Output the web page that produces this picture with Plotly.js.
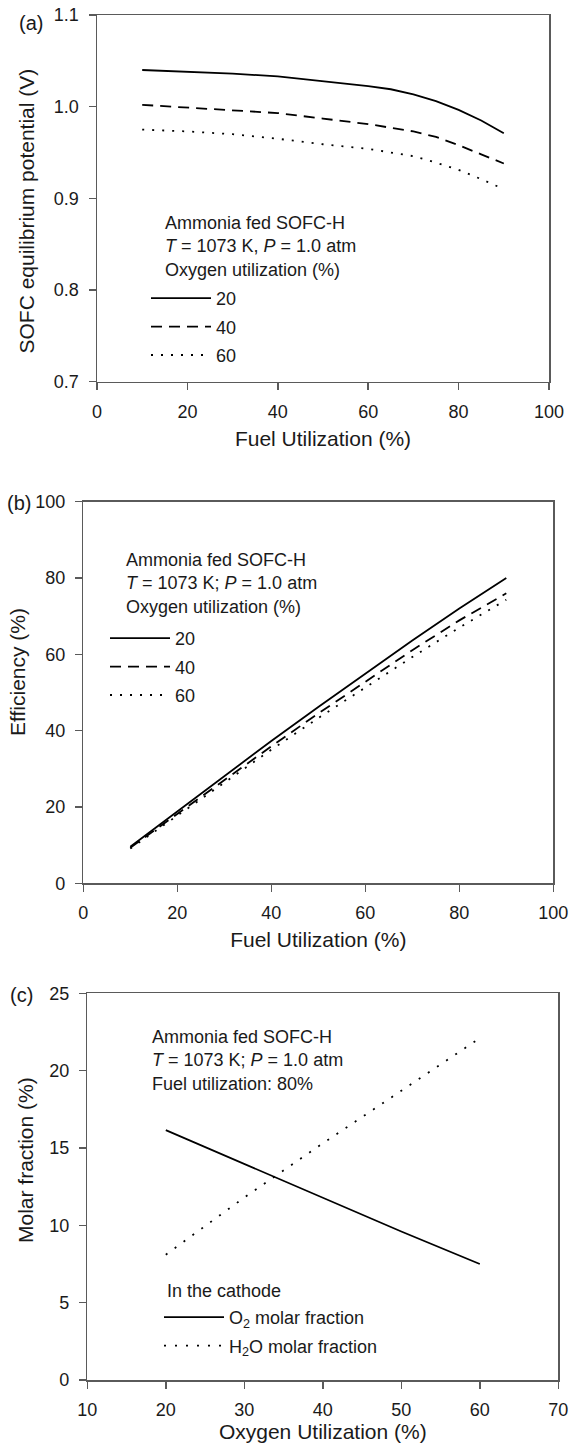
<!DOCTYPE html>
<html><head><meta charset="utf-8">
<script src="https://cdn.plot.ly/plotly-3.0.1.min.js"></script>
<style>html,body{margin:0;padding:0;background:#fff}#chart{width:576px;height:1443px}</style>
</head><body><div id="chart"></div>
<script>
// ---------- Panel (a): SOFC equilibrium potential ----------
const fuelUtilA = [10, 20, 30, 40, 50, 60, 65, 70, 75, 80, 85, 90];
const potentialO20 = [1.040, 1.038, 1.036, 1.033, 1.028, 1.0225, 1.019, 1.0135, 1.006, 0.9965, 0.985, 0.971];
const potentialO40 = [1.002, 0.999, 0.996, 0.993, 0.987, 0.981, 0.977, 0.973, 0.967, 0.958, 0.948, 0.938];
const potentialO60 = [0.975, 0.973, 0.970, 0.965, 0.959, 0.954, 0.950, 0.946, 0.939, 0.931, 0.921, 0.910];
// ---------- Panel (b): efficiency ----------
const fuelUtilB = [10, 20, 30, 40, 50, 60, 70, 80, 90];
const efficiencyO20 = [9.6, 18.9, 28.2, 37.3, 46.2, 55.0, 63.6, 72.0, 80.0];
const efficiencyO40 = [9.3, 18.2, 27.1, 35.9, 44.5, 52.9, 61.1, 68.9, 76.0];
const efficiencyO60 = [9.1, 17.8, 26.5, 35.0, 43.3, 51.4, 59.3, 67.0, 74.3];
// ---------- Panel (c): cathode molar fractions ----------
const oxygenUtil = [20, 30, 40, 50, 60];
const o2Fraction = [16.15, 13.95, 11.75, 9.6, 7.5];
const h2oFraction = [8.1, 11.8, 15.3, 18.7, 22.1];
// legend labels
const oxygenLabels = ['20', '40', '60'];
const cathodeLabels = ['O<sub>2</sub> molar fraction', 'H<sub>2</sub>O molar fraction'];

const W = 576, H = 1443;
const px = v => v / W;
const py = v => 1 - v / H;
const FONT = 'Liberation Sans, Arial, Helvetica, sans-serif';
const TXT = '#1a1a1a';
const AX = '#5a5a5a';

const DASH = '11px,7px';
const DOT = '2px,8px';
const lineStyle = (dash) => ({color: '#000', width: 1.8, dash: dash});

const traces = [
  {x: fuelUtilA, y: potentialO20, name: oxygenLabels[0], line: lineStyle('solid'), xaxis: 'x', yaxis: 'y', legend: 'legend', legendgroup: 'a1'},
  {x: fuelUtilA, y: potentialO40, name: oxygenLabels[1], line: lineStyle(DASH), xaxis: 'x', yaxis: 'y', legend: 'legend', legendgroup: 'a2'},
  {x: fuelUtilA, y: potentialO60, name: oxygenLabels[2], line: lineStyle(DOT), xaxis: 'x', yaxis: 'y', legend: 'legend', legendgroup: 'a3'},
  {x: fuelUtilB, y: efficiencyO20, name: oxygenLabels[0], line: lineStyle('solid'), xaxis: 'x2', yaxis: 'y2', legend: 'legend2', legendgroup: 'b1'},
  {x: fuelUtilB, y: efficiencyO40, name: oxygenLabels[1], line: lineStyle(DASH), xaxis: 'x2', yaxis: 'y2', legend: 'legend2', legendgroup: 'b2'},
  {x: fuelUtilB, y: efficiencyO60, name: oxygenLabels[2], line: lineStyle(DOT), xaxis: 'x2', yaxis: 'y2', legend: 'legend2', legendgroup: 'b3'},
  {x: oxygenUtil, y: o2Fraction, name: cathodeLabels[0], line: lineStyle('solid'), xaxis: 'x3', yaxis: 'y3', legend: 'legend3', legendgroup: 'c1'},
  {x: oxygenUtil, y: h2oFraction, name: cathodeLabels[1], line: lineStyle('2px,9px'), xaxis: 'x3', yaxis: 'y3', legend: 'legend3', legendgroup: 'c2'}
].map(t => Object.assign({type: 'scatter', mode: 'lines', hoverinfo: 'skip'}, t));

function axisBase(extra) {
  return Object.assign({
    showline: true, mirror: true, linecolor: AX, linewidth: 1.5,
    ticks: 'outside', ticklen: 7, tickwidth: 1.5, tickcolor: AX,
    showgrid: false, zeroline: false, fixedrange: true,
    tickfont: {family: FONT, size: 18, color: TXT},
    ticklabelstandoff: 6
  }, extra);
}
function xTitle(text) {
  return {text: text, font: {family: FONT, size: 21, color: TXT}, standoff: 10};
}

function legendBase(x, y) {
  return {
    x: px(x), y: py(y), xanchor: 'left', yanchor: 'top',
    bgcolor: 'rgba(0,0,0,0)', borderwidth: 0,
    font: {family: FONT, size: 18, color: TXT},
    itemwidth: 60, tracegroupgap: 2, traceorder: 'grouped'
  };
}

function ann(text, x, y, opts) {
  return Object.assign({
    text: text, x: px(x), y: py(y), xref: 'paper', yref: 'paper',
    showarrow: false, xanchor: 'left', yanchor: 'middle', align: 'left',
    font: {family: FONT, size: 18, color: TXT}
  }, opts || {});
}
function yTitle(text, x, y) {
  return ann(text, x, y, {textangle: -90, xanchor: 'center', yanchor: 'middle', align: 'center',
    font: {family: FONT, size: 21, color: TXT}});
}

const layout = {
  width: W, height: H,
  margin: {l: 0, r: 0, t: 0, b: 0},
  paper_bgcolor: '#fff', plot_bgcolor: '#fff',
  hovermode: false,
  showlegend: true,
  xaxis: axisBase({domain: [px(97), px(549)], anchor: 'y', range: [0, 100], dtick: 20, title: xTitle('Fuel Utilization (%)')}),
  yaxis: axisBase({domain: [py(381.7), py(15)], anchor: 'x', range: [0.7, 1.1], dtick: 0.1, tickformat: '.1f'}),
  xaxis2: axisBase({domain: [px(83.3), px(553.3)], anchor: 'y2', range: [0, 100], dtick: 20, title: xTitle('Fuel Utilization (%)')}),
  yaxis2: axisBase({domain: [py(883.3), py(501.7)], anchor: 'x2', range: [0, 100], dtick: 20}),
  xaxis3: axisBase({domain: [px(87.3), px(558.3)], anchor: 'y3', range: [10, 70], dtick: 10, title: xTitle('Oxygen Utilization (%)')}),
  yaxis3: axisBase({domain: [py(1380), py(993.3)], anchor: 'x3', range: [0, 25], dtick: 5}),
  legend: legendBase(146, 280),
  legend2: legendBase(105, 620),
  legend3: legendBase(159, 1299),
  annotations: [
    ann('(a)', 30.5, 23, {xanchor: 'center', font: {family: FONT, size: 20, color: TXT}}),
    ann('(b)', 18.5, 503, {xanchor: 'center', font: {family: FONT, size: 20, color: TXT}}),
    ann('(c)', 21.5, 995, {xanchor: 'center', font: {family: FONT, size: 20, color: TXT}}),
    yTitle('SOFC equilibrium potential (V)', 26, 211.5),
    yTitle('Efficiency (%)', 17, 672),
    yTitle('Molar fraction (%)', 25, 1160),
    ann('Ammonia fed SOFC-H<br><i>T</i> = 1073 K, <i>P</i> = 1.0 atm<br>Oxygen utilization (%)', 163, 246.5),
    ann('Ammonia fed SOFC-H<br><i>T</i> = 1073 K; <i>P</i> = 1.0 atm<br>Oxygen utilization (%)', 124, 583),
    ann('Ammonia fed SOFC-H<br><i>T</i> = 1073 K; <i>P</i> = 1.0 atm<br>Fuel utilization: 80%', 150, 1060),
    ann('In the cathode', 165, 1291)
  ]
};

Plotly.newPlot('chart', traces, layout, {staticPlot: true, displayModeBar: false});
</script>
</body></html>
